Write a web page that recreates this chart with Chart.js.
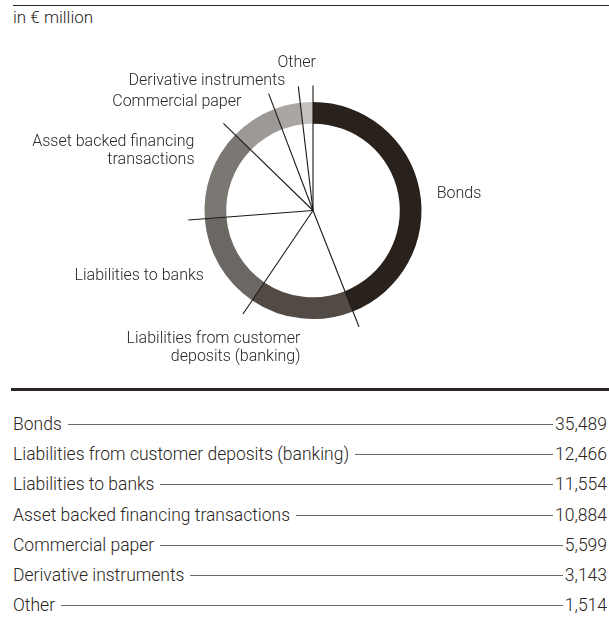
<!DOCTYPE html>
<html>
<head>
<meta charset="utf-8">
<script src="https://cdn.jsdelivr.net/npm/chart.js"></script>
<style>
    body {
        margin: 0;
        width: 609px;
        height: 632px;
        background: #fff;
        font-family: Roboto, "Liberation Sans", sans-serif;
        font-weight: 300;
        color: #2a2522;
        position: relative;
        overflow: hidden;
    }
    .rule-top {
        position: absolute; left: 13px; right: 0; top: 5px;
        border-top: 1px solid #2a2522;
    }
    .unit {
        position: absolute; left: 13px; top: 7px;
        font-size: 17px;
    }
    .chart {
        position: absolute; left: 0; top: 0;
        width: 609px; height: 380px;
    }
    .rule-mid {
        position: absolute; left: 11px; right: 0; top: 388px;
        border-top: 3px solid #2a2522;
    }
    table {
        position: absolute; left: 13px; top: 409px;
        width: 594px;
        border-collapse: collapse;
        font-size: 17.5px;
    }
    td { padding: 0; height: 30.2px; }
    .row { display: flex; align-items: center; }
    .row .lead { flex: 1; border-top: 1px solid #6e6a67; margin: 1px 2px 0 6px; }
</style>
</head>
<body>
<div class="rule-top"></div>
<div class="unit">in € million</div>
<div class="chart"><canvas id="donut"></canvas></div>
<div class="rule-mid"></div>
<table id="legend"></table>

<script type="text/javascript">
    // values in € million, as printed in the table
    const categories = ['Bonds', 'Liabilities from customer deposits (banking)', 'Liabilities to banks',
        'Asset backed financing transactions', 'Commercial paper', 'Derivative instruments', 'Other'];
    const values = [35489, 12466, 11554, 10884, 5599, 3143, 1514];
    const valueLabels = ['35,489', '12,466', '11,554', '10,884', '5,599', '3,143', '1,514'];
    // the ring labels wrap differently from the table
    const ringLabels = [['Bonds'], ['Liabilities from customer', 'deposits (banking)'], ['Liabilities to banks'],
        ['Asset backed financing', 'transactions'], ['Commercial paper'], ['Derivative instruments'], ['Other']];
    const colors = ['#29211c', '#514a45', '#6b6762', '#7b7874', '#9c9996', '#a9a6a3', '#c3c0be'];

    // per label placement around the ring: alignment and a nudge (px)
    const labelPlace = [
        {align: 'left', dx: 1, dy: 7},
        {align: 'right', dx: 1, dy: 4},
        {align: 'right', dx: -1, dy: 3},
        {align: 'right', dx: -1, dy: -26},
        {align: 'right', dx: -3, dy: -4},
        {align: 'right', dx: 2, dy: -8},
        {align: 'center', dx: -9, dy: -23}
    ];

    const leaders = {
        id: 'leaders',
        afterDatasetsDraw(chart) {
            const c = chart.ctx;
            const arcs = chart.getDatasetMeta(0).data;
            const len = 125;
            c.save();
            c.strokeStyle = '#1c1714';
            c.lineWidth = 1.1;
            arcs.forEach((arc) => {
                const a = arc.startAngle;
                c.beginPath();
                c.moveTo(arc.x, arc.y);
                c.lineTo(arc.x + Math.cos(a) * len, arc.y + Math.sin(a) * len);
                c.stroke();
            });
            c.font = '300 16px Roboto';
            c.fillStyle = '#2a2522';
            c.textBaseline = 'middle';
            arcs.forEach((arc, i) => {
                const mid = (arc.startAngle + arc.endAngle) / 2;
                const p = labelPlace[i];
                const x = arc.x + Math.cos(mid) * len + p.dx;
                const y = arc.y + Math.sin(mid) * len + p.dy;
                c.textAlign = p.align;
                ringLabels[i].forEach((line, k) => c.fillText(line, x, y + k * 18));
            });
            c.restore();
        }
    };

    new Chart(document.getElementById('donut'), {
        type: 'doughnut',
        data: {
            labels: categories,
            datasets: [{
                data: values,
                backgroundColor: colors,
                borderWidth: 0
            }]
        },
        options: {
            responsive: true,
            maintainAspectRatio: false,
            animation: false,
            cutout: '80%',
            layout: { padding: { left: 17, right: 0, top: 102, bottom: 61 } },
            plugins: {
                legend: { display: false },
                tooltip: { enabled: false }
            }
        },
        plugins: [leaders]
    });

    const table = document.getElementById('legend');
    categories.forEach((name, i) => {
        const tr = document.createElement('tr');
        tr.innerHTML = '<td><div class="row"><span>' + name + '</span><span class="lead"></span><span>' +
            valueLabels[i] + '</span></div></td>';
        table.appendChild(tr);
    });
</script>
</body>
</html>
